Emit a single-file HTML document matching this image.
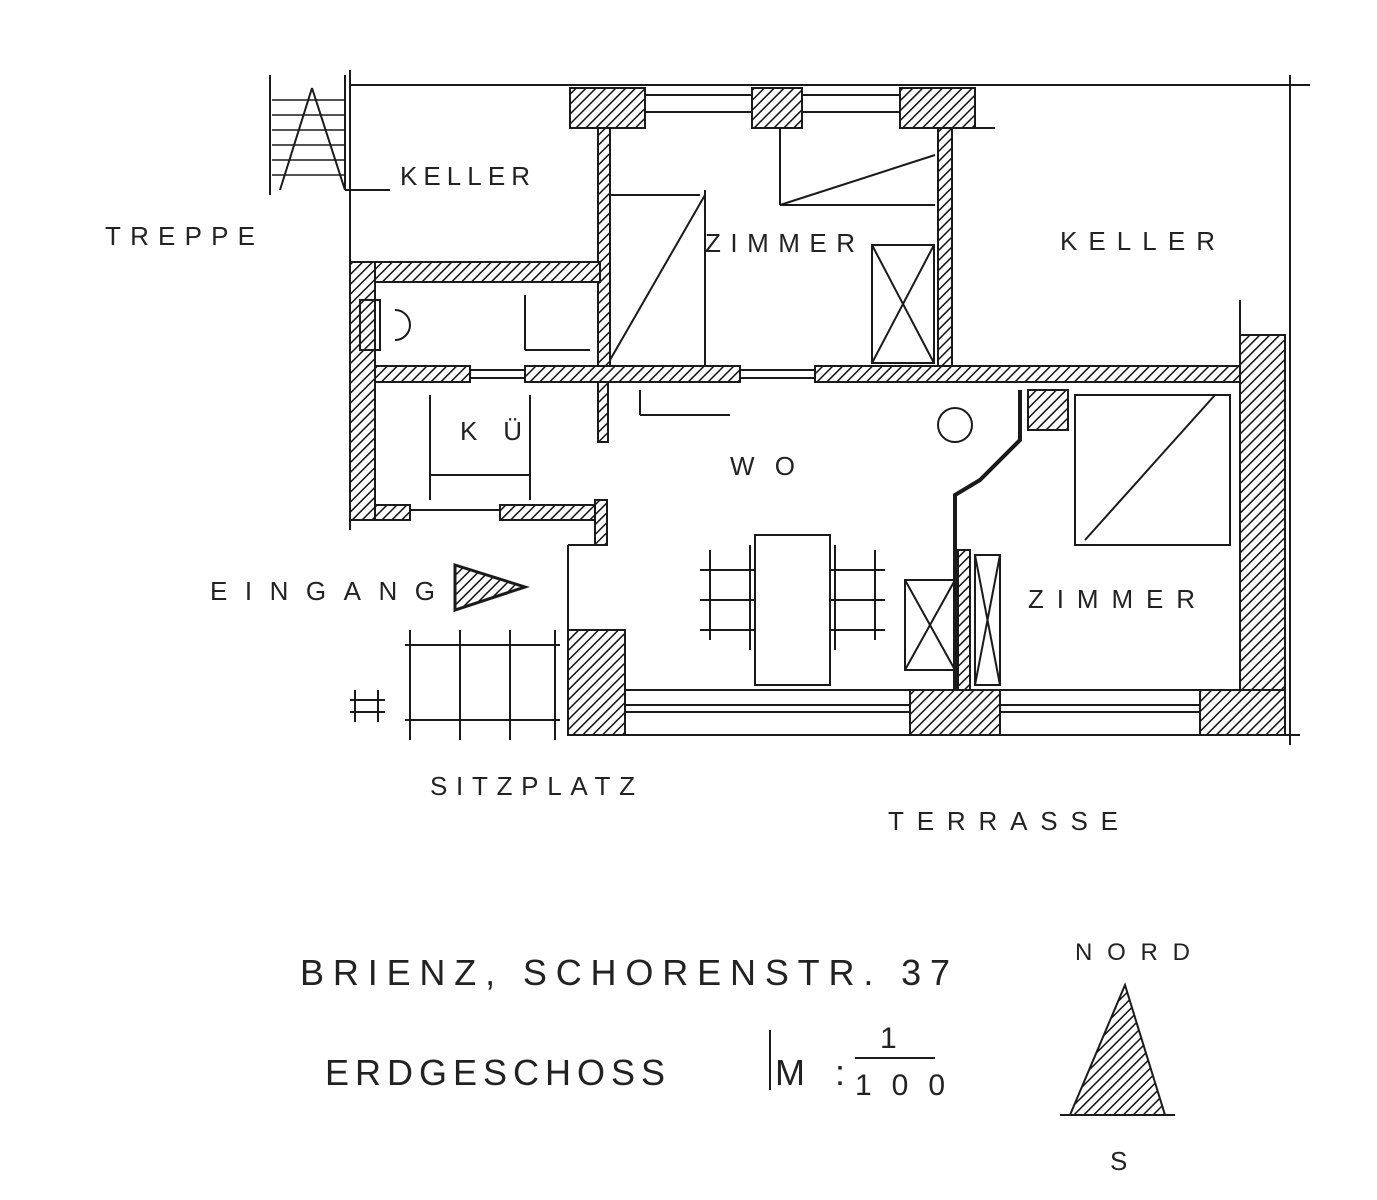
<!DOCTYPE html>
<html><head><meta charset="utf-8"><style>
html,body{margin:0;padding:0;background:#fff;}
svg{display:block}
text{font-family:"Liberation Sans",sans-serif;fill:#222}
</style></head><body>
<svg width="1377" height="1200" viewBox="0 0 1377 1200" xmlns="http://www.w3.org/2000/svg">
<defs>
<pattern id="h" width="7" height="7" patternUnits="userSpaceOnUse" patternTransform="rotate(45)">
<rect width="7" height="7" fill="#fff"/><line x1="0" y1="0" x2="0" y2="7" stroke="#111" stroke-width="3"/>
</pattern>
</defs>
<g stroke="#1a1a1a" stroke-width="2" fill="none">
<line x1="350" y1="85" x2="1292" y2="85"/>
<line x1="350" y1="70" x2="350" y2="530"/>
<line x1="1290" y1="75" x2="1290" y2="745"/>
<line x1="1282" y1="85" x2="1310" y2="85"/>
<line x1="270" y1="75" x2="270" y2="195"/><line x1="345" y1="75" x2="345" y2="190"/>
<line x1="280" y1="190" x2="312" y2="88"/><line x1="312" y1="88" x2="345" y2="190"/>
<g stroke-width="1.5">
<line x1="272" y1="100" x2="345" y2="100"/><line x1="272" y1="115" x2="345" y2="115"/>
<line x1="272" y1="130" x2="345" y2="130"/><line x1="272" y1="145" x2="345" y2="145"/>
<line x1="272" y1="160" x2="345" y2="160"/><line x1="272" y1="175" x2="345" y2="175"/>
</g>
<line x1="345" y1="190" x2="390" y2="190"/>
<rect x="570" y="88" width="75" height="40" fill="url(#h)"/>
<rect x="752" y="88" width="50" height="40" fill="url(#h)"/>
<rect x="900" y="88" width="75" height="40" fill="url(#h)"/>
<line x1="645" y1="95" x2="752" y2="95"/><line x1="645" y1="112" x2="752" y2="112"/>
<line x1="802" y1="95" x2="900" y2="95"/><line x1="802" y1="112" x2="900" y2="112"/>
<line x1="975" y1="128" x2="995" y2="128"/>
<rect x="598" y="128" width="12" height="240" fill="url(#h)"/>
<rect x="938" y="128" width="14" height="240" fill="url(#h)"/>
<line x1="610" y1="195" x2="700" y2="195"/><line x1="610" y1="360" x2="705" y2="195"/>
<line x1="705" y1="190" x2="705" y2="370"/>
<line x1="780" y1="128" x2="780" y2="205"/><line x1="780" y1="205" x2="935" y2="205"/><line x1="780" y1="205" x2="935" y2="155"/>
<rect x="872" y="245" width="62" height="118"/><line x1="872" y1="245" x2="934" y2="363"/><line x1="934" y1="245" x2="872" y2="363"/>
<rect x="350" y="262" width="250" height="20" fill="url(#h)"/>
<rect x="350" y="262" width="25" height="258" fill="url(#h)"/>
<rect x="360" y="300" width="20" height="50"/>
<path d="M395 310 a15 15 0 0 1 0 30"/>
<line x1="525" y1="295" x2="525" y2="350"/><line x1="525" y1="350" x2="590" y2="350"/>
<rect x="375" y="366" width="95" height="16" fill="url(#h)"/>
<rect x="525" y="366" width="215" height="16" fill="url(#h)"/>
<rect x="815" y="366" width="435" height="16" fill="url(#h)"/>
<line x1="470" y1="370" x2="525" y2="370"/><line x1="470" y1="378" x2="525" y2="378"/>
<line x1="740" y1="370" x2="815" y2="370"/><line x1="740" y1="378" x2="815" y2="378"/>
<rect x="375" y="505" width="35" height="15" fill="url(#h)"/>
<rect x="500" y="505" width="100" height="15" fill="url(#h)"/>
<line x1="410" y1="510" x2="500" y2="510"/>
<rect x="598" y="382" width="10" height="60" fill="url(#h)"/>
<rect x="595" y="500" width="12" height="45" fill="url(#h)"/>
<line x1="430" y1="395" x2="430" y2="500"/><line x1="430" y1="475" x2="530" y2="475"/><line x1="530" y1="395" x2="530" y2="500"/>
<line x1="640" y1="390" x2="640" y2="415"/><line x1="640" y1="415" x2="730" y2="415"/>
<rect x="568" y="630" width="57" height="105" fill="url(#h)"/>
<line x1="568" y1="545" x2="568" y2="630"/><line x1="568" y1="545" x2="600" y2="545"/>
<line x1="625" y1="690" x2="1240" y2="690"/>
<line x1="625" y1="705" x2="910" y2="705"/><line x1="625" y1="712" x2="910" y2="712"/>
<rect x="910" y="690" width="90" height="45" fill="url(#h)"/>
<line x1="1000" y1="705" x2="1200" y2="705"/><line x1="1000" y1="712" x2="1200" y2="712"/>
<rect x="1200" y="690" width="85" height="45" fill="url(#h)"/>
<line x1="625" y1="735" x2="1300" y2="735"/>
<rect x="1240" y="335" width="45" height="355" fill="url(#h)"/>
<line x1="1240" y1="300" x2="1240" y2="370"/>
<rect x="1075" y="395" width="155" height="150"/><line x1="1085" y1="540" x2="1215" y2="395"/>
<circle cx="955" cy="425" r="17"/>
<rect x="1028" y="390" width="40" height="40" fill="url(#h)"/>
<path d="M1020 390 L1020 440 L980 480 L955 495 L955 690" stroke-width="4"/>
<rect x="958" y="550" width="12" height="140" fill="url(#h)"/>
<rect x="975" y="555" width="25" height="130"/>
<line x1="975" y1="555" x2="1000" y2="685"/><line x1="1000" y1="555" x2="975" y2="685"/>
<rect x="905" y="580" width="50" height="90"/><line x1="905" y1="580" x2="955" y2="670"/><line x1="955" y1="580" x2="905" y2="670"/>
<rect x="755" y="535" width="75" height="150"/>
<line x1="710" y1="550" x2="710" y2="640"/><line x1="750" y1="545" x2="750" y2="650"/>
<line x1="700" y1="570" x2="755" y2="570"/><line x1="700" y1="600" x2="755" y2="600"/><line x1="700" y1="630" x2="755" y2="630"/>
<line x1="835" y1="545" x2="835" y2="650"/><line x1="875" y1="550" x2="875" y2="640"/>
<line x1="830" y1="570" x2="885" y2="570"/><line x1="830" y1="600" x2="885" y2="600"/><line x1="830" y1="630" x2="885" y2="630"/>
<line x1="410" y1="630" x2="410" y2="740"/><line x1="460" y1="630" x2="460" y2="740"/>
<line x1="510" y1="630" x2="510" y2="740"/><line x1="555" y1="630" x2="555" y2="740"/>
<line x1="405" y1="645" x2="560" y2="645"/><line x1="405" y1="720" x2="560" y2="720"/>
<line x1="350" y1="700" x2="385" y2="700"/><line x1="350" y1="712" x2="385" y2="712"/>
<line x1="355" y1="690" x2="355" y2="722"/><line x1="378" y1="690" x2="378" y2="722"/>
<path d="M455 565 L525 587 L455 610 Z" fill="url(#h)" stroke-width="3"/>
<line x1="770" y1="1030" x2="770" y2="1090"/>
<line x1="855" y1="1058" x2="935" y2="1058"/>
<path d="M1070 1115 L1125 985 L1165 1115 Z" fill="url(#h)"/>
<line x1="1060" y1="1115" x2="1175" y2="1115"/>
</g>
<g font-size="26" lengthAdjust="spacing">
<text x="400" y="185" textLength="130">KELLER</text>
<text x="105" y="245" textLength="150">TREPPE</text>
<text x="705" y="252" textLength="150">ZIMMER</text>
<text x="1060" y="250" textLength="155">KELLER</text>
<text x="460" y="440" textLength="62">KÜ</text>
<text x="730" y="475" textLength="65">WO</text>
<text x="1028" y="608" textLength="167">ZIMMER</text>
<text x="210" y="600" textLength="225">EINGANG</text>
<text x="430" y="795" textLength="205">SITZPLATZ</text>
<text x="888" y="830" textLength="230">TERRASSE</text>
<text x="1075" y="960" font-size="24" textLength="115">NORD</text>
<text x="1110" y="1170">S</text>
</g>
<g font-size="36">
<text x="300" y="985" textLength="650">BRIENZ, SCHORENSTR. 37</text>
<text x="325" y="1085" textLength="340">ERDGESCHOSS</text>
<text x="775" y="1085" textLength="70">M:</text>
<text x="880" y="1048" font-size="30">1</text>
<text x="855" y="1095" font-size="30" textLength="90">100</text>
</g>
</svg>
</body></html>
